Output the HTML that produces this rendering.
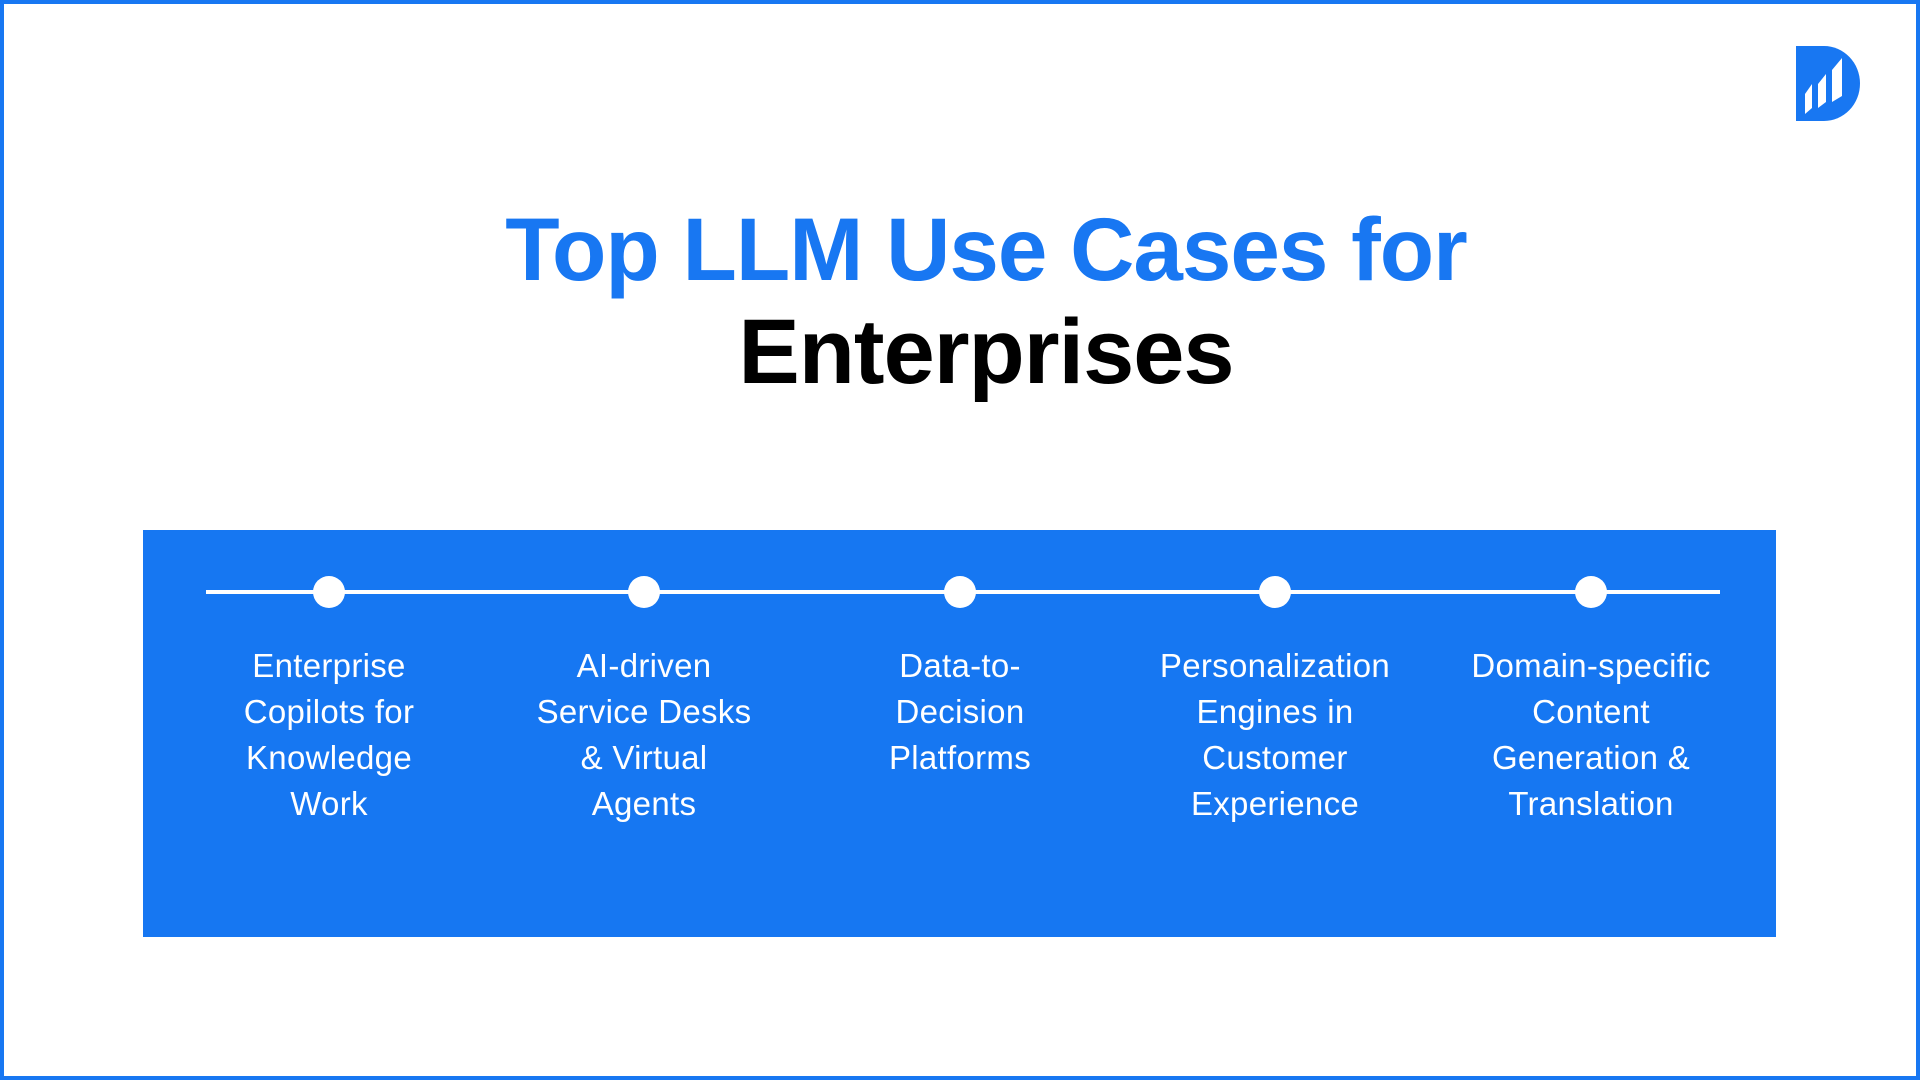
<!DOCTYPE html>
<html><head><meta charset="utf-8"><style>
html,body{margin:0;padding:0}
body{width:1920px;height:1080px;position:relative;background:#fff;overflow:hidden;font-family:"Liberation Sans",sans-serif}
.frame{position:absolute;left:0;top:0;width:1912px;height:1072px;border:4px solid #1877f2}
.t{position:absolute;left:26px;width:1920px;text-align:center;font-weight:bold;font-size:92px;letter-spacing:-1px}
.box{position:absolute;left:143px;top:530px;width:1633px;height:407px;background:#1677f2}
.line{position:absolute;left:206px;top:590px;width:1514px;height:4px;background:#fff}
.dot{position:absolute;top:576px;width:32px;height:32px;border-radius:50%;background:#fff}
.lab{position:absolute;top:643px;width:300px;text-align:center;color:#fff;font-size:33px;line-height:46px;letter-spacing:0.3px}
</style></head><body>
<div class="frame"></div>
<svg style="position:absolute;left:1796px;top:46px" width="66" height="75" viewBox="0 0 66 75">
<path d="M0 0 H28 A36 37.5 0 0 1 28 75 H0 Z" fill="#1877f2"/>
<polygon points="9,48 16,38 16,62 9,68" fill="#fff"/>
<polygon points="22,38 30,28 30,56 22,62" fill="#fff"/>
<polygon points="36,24 46,12 46,50 36,56" fill="#fff"/>
</svg>
<div class="t" style="top:198px;color:#1877f2;font-size:89px">Top LLM Use Cases for</div>
<div class="t" style="top:300px;color:#000">Enterprises</div>
<div class="box"></div>
<div class="line"></div>
<div class="dot" style="left:313px"></div>
<div class="dot" style="left:628px"></div>
<div class="dot" style="left:944px"></div>
<div class="dot" style="left:1259px"></div>
<div class="dot" style="left:1575px"></div>
<div class="lab" style="left:179px">Enterprise<br>Copilots for<br>Knowledge<br>Work</div>
<div class="lab" style="left:494px">AI-driven<br>Service Desks<br>&amp; Virtual<br>Agents</div>
<div class="lab" style="left:810px">Data-to-<br>Decision<br>Platforms</div>
<div class="lab" style="left:1125px">Personalization<br>Engines in<br>Customer<br>Experience</div>
<div class="lab" style="left:1441px">Domain-specific<br>Content<br>Generation &amp;<br>Translation</div>
</body></html>
